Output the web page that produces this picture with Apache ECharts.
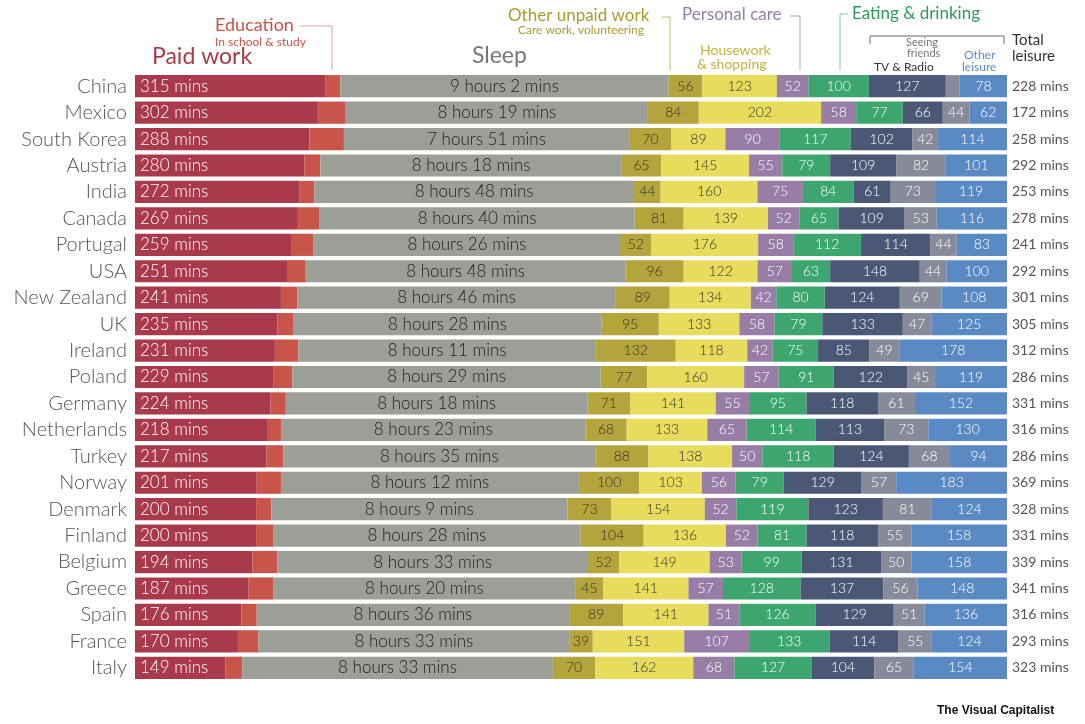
<!DOCTYPE html>
<html>
<head>
<meta charset="utf-8">
<script src="https://cdn.jsdelivr.net/npm/echarts@6/dist/echarts.min.js"></script>
<style>html,body{margin:0;background:#fff}#chart{width:1085px;height:724px}</style>
</head>
<body>
<div id="chart"></div>
<script>
var countries = ['China','Mexico','South Korea','Austria','India','Canada','Portugal','USA','New Zealand','UK','Ireland','Poland','Germany','Netherlands','Turkey','Norway','Denmark','Finland','Belgium','Greece','Spain','France','Italy'];
var paidWork = [315,302,288,280,272,269,259,251,241,235,231,229,224,218,217,201,200,200,194,187,176,170,149];
var education = [24,46,57,26,24,36,36,31,27,27,39,31,25,23,28,40,25,28,41,41,25,34,28];
var sleep = [542,499,471,498,528,520,506,528,526,508,491,509,498,503,515,492,489,508,513,500,516,513,513];
var otherUnpaid = [56,84,70,65,44,81,52,96,89,95,132,77,71,68,88,100,73,104,52,45,89,39,70];
var housework = [123,202,89,145,160,139,176,122,134,133,118,160,141,133,138,103,154,136,149,141,141,151,162];
var personalCare = [52,58,90,55,75,52,58,57,42,58,42,57,55,65,50,56,52,52,53,57,51,107,68];
var eating = [100,77,117,79,84,65,112,63,80,79,75,91,95,114,118,79,119,81,99,128,126,133,127];
var tvRadio = [127,66,102,109,61,109,114,148,124,133,85,122,118,113,124,129,123,118,131,137,129,114,104];
var friends = [23,44,42,82,73,53,44,44,69,47,49,45,61,73,68,57,81,55,50,56,51,55,65];
var otherLeisure = [78,62,114,101,119,116,83,100,108,125,178,119,152,130,94,183,124,158,158,148,136,124,154];
var totalLeisure = [228,172,258,292,253,278,241,292,301,305,312,286,331,316,286,369,328,331,339,341,316,293,323];

var font = 'Lato, "Open Sans", sans-serif';
function seg(name, data, color, textColor, fmt) {
  return {
    name: name, type: 'bar', stack: 'day', data: data, barWidth: '84%',
    itemStyle: { color: color },
    label: {
      show: fmt !== null, position: fmt === 'left' ? 'insideLeft' : 'inside',
      color: textColor, fontFamily: font, fontWeight: 300,
      fontSize: (fmt === 'left' || fmt === 'sleep') ? 17 : 14,
      formatter: function (p) {
        if (fmt === 'left') return p.value + ' mins';
        if (fmt === 'sleep') return Math.floor(p.value / 60) + ' hours ' + (p.value % 60) + ' mins';
        return p.value < 30 ? '' : p.value;
      }
    }
  };
}
function txt(x, y, s, size, color, extra) {
  var o = { type: 'text', left: x, top: y, style: { text: s, fontSize: size, fill: color, fontFamily: font } };
  if (extra) for (var k in extra) o.style[k] = extra[k];
  return o;
}
function ln(x1, y1, x2, y2, color) {
  return { type: 'line', shape: { x1: x1, y1: y1, x2: x2, y2: y2 }, style: { stroke: color, lineWidth: 1 } };
}

var chart = echarts.init(document.getElementById('chart'));
chart.setOption({
  animation: false,
  grid: { left: 135, right: 78, top: 73, bottom: 43 },
  xAxis: { type: 'value', min: 0, max: 1440, show: false },
  yAxis: [{
    type: 'category', data: countries, inverse: true,
    axisLine: { show: false }, axisTick: { show: false },
    axisLabel: { fontSize: 20, color: '#555', fontFamily: font, fontWeight: 300, margin: 8 }
  }, {
    type: 'category', data: totalLeisure.map(function (v) { return v + ' mins'; }), inverse: true, position: 'right',
    axisLine: { show: false }, axisTick: { show: false },
    axisLabel: { fontSize: 14, color: '#555', fontFamily: font, margin: 5 }
  }],
  series: [
    seg('Paid work', paidWork, '#a93a4c', '#fff', 'left'),
    seg('Education', education, '#c8544a', '#fff', null),
    seg('Sleep', sleep, '#9c9f98', '#222', 'sleep'),
    seg('Other unpaid work', otherUnpaid, '#b3a43c', '#333', 'num'),
    seg('Housework & shopping', housework, '#e7dc5c', '#333', 'num'),
    seg('Personal care', personalCare, '#987ea6', '#fff', 'num'),
    seg('Eating & drinking', eating, '#3da56e', '#fff', 'num'),
    seg('TV & Radio', tvRadio, '#4a5876', '#fff', 'num'),
    seg('Seeing friends', friends, '#878b99', '#fff', 'num'),
    seg('Other leisure', otherLeisure, '#5a8ac4', '#fff', 'num')
  ],
  graphic: [
    txt(152, 45, 'Paid work', 23, '#a93a4c'),
    txt(215, 16, 'Education', 18, '#c8544a'),
    txt(215, 36, 'In school & study', 12, '#c8544a'),
    ln(300, 26, 332, 26, '#e0a0a0'), ln(332, 26, 332, 70, '#e0a0a0'),
    txt(472, 44, 'Sleep', 23, '#777'),
    txt(508, 7, 'Other unpaid work', 17, '#aa9b30'),
    txt(518, 24, 'Care work, volunteering', 12, '#aa9b30'),
    ln(662, 17, 670, 17, '#c9bb6a'), ln(670, 17, 670, 70, '#c9bb6a'),
    txt(682, 6, 'Personal care', 17, '#987ea6'),
    ln(790, 16, 800, 16, '#b8a5c2'), ln(800, 16, 800, 70, '#b8a5c2'),
    txt(700, 43, 'Housework', 14, '#c2b33c'),
    txt(697, 57, '& shopping', 14, '#c2b33c'),
    txt(852, 5, 'Eating & drinking', 17, '#2f9a60'),
    ln(840, 14, 848, 14, '#7cc69c'), ln(840, 14, 840, 70, '#7cc69c'),
    ln(870, 36, 870, 44, '#667'), ln(870, 36, 1004, 36, '#667'), ln(1004, 36, 1004, 44, '#667'),
    txt(906, 37, 'Seeing', 11, '#777'),
    txt(907, 48, 'friends', 11, '#777'),
    txt(874, 61, 'TV & Radio', 12, '#333'),
    txt(964, 49, 'Other', 12, '#5a8ac4'),
    txt(962, 61, 'leisure', 12, '#5a8ac4'),
    txt(1012, 33, 'Total', 15, '#333'),
    txt(1012, 49, 'leisure', 15, '#333'),
    txt(937, 705, 'The Visual Capitalist', 12, '#111', { fontWeight: 'bold', fontFamily: 'Arial, "Liberation Sans", sans-serif' })
  ]
});
</script>
</body>
</html>
